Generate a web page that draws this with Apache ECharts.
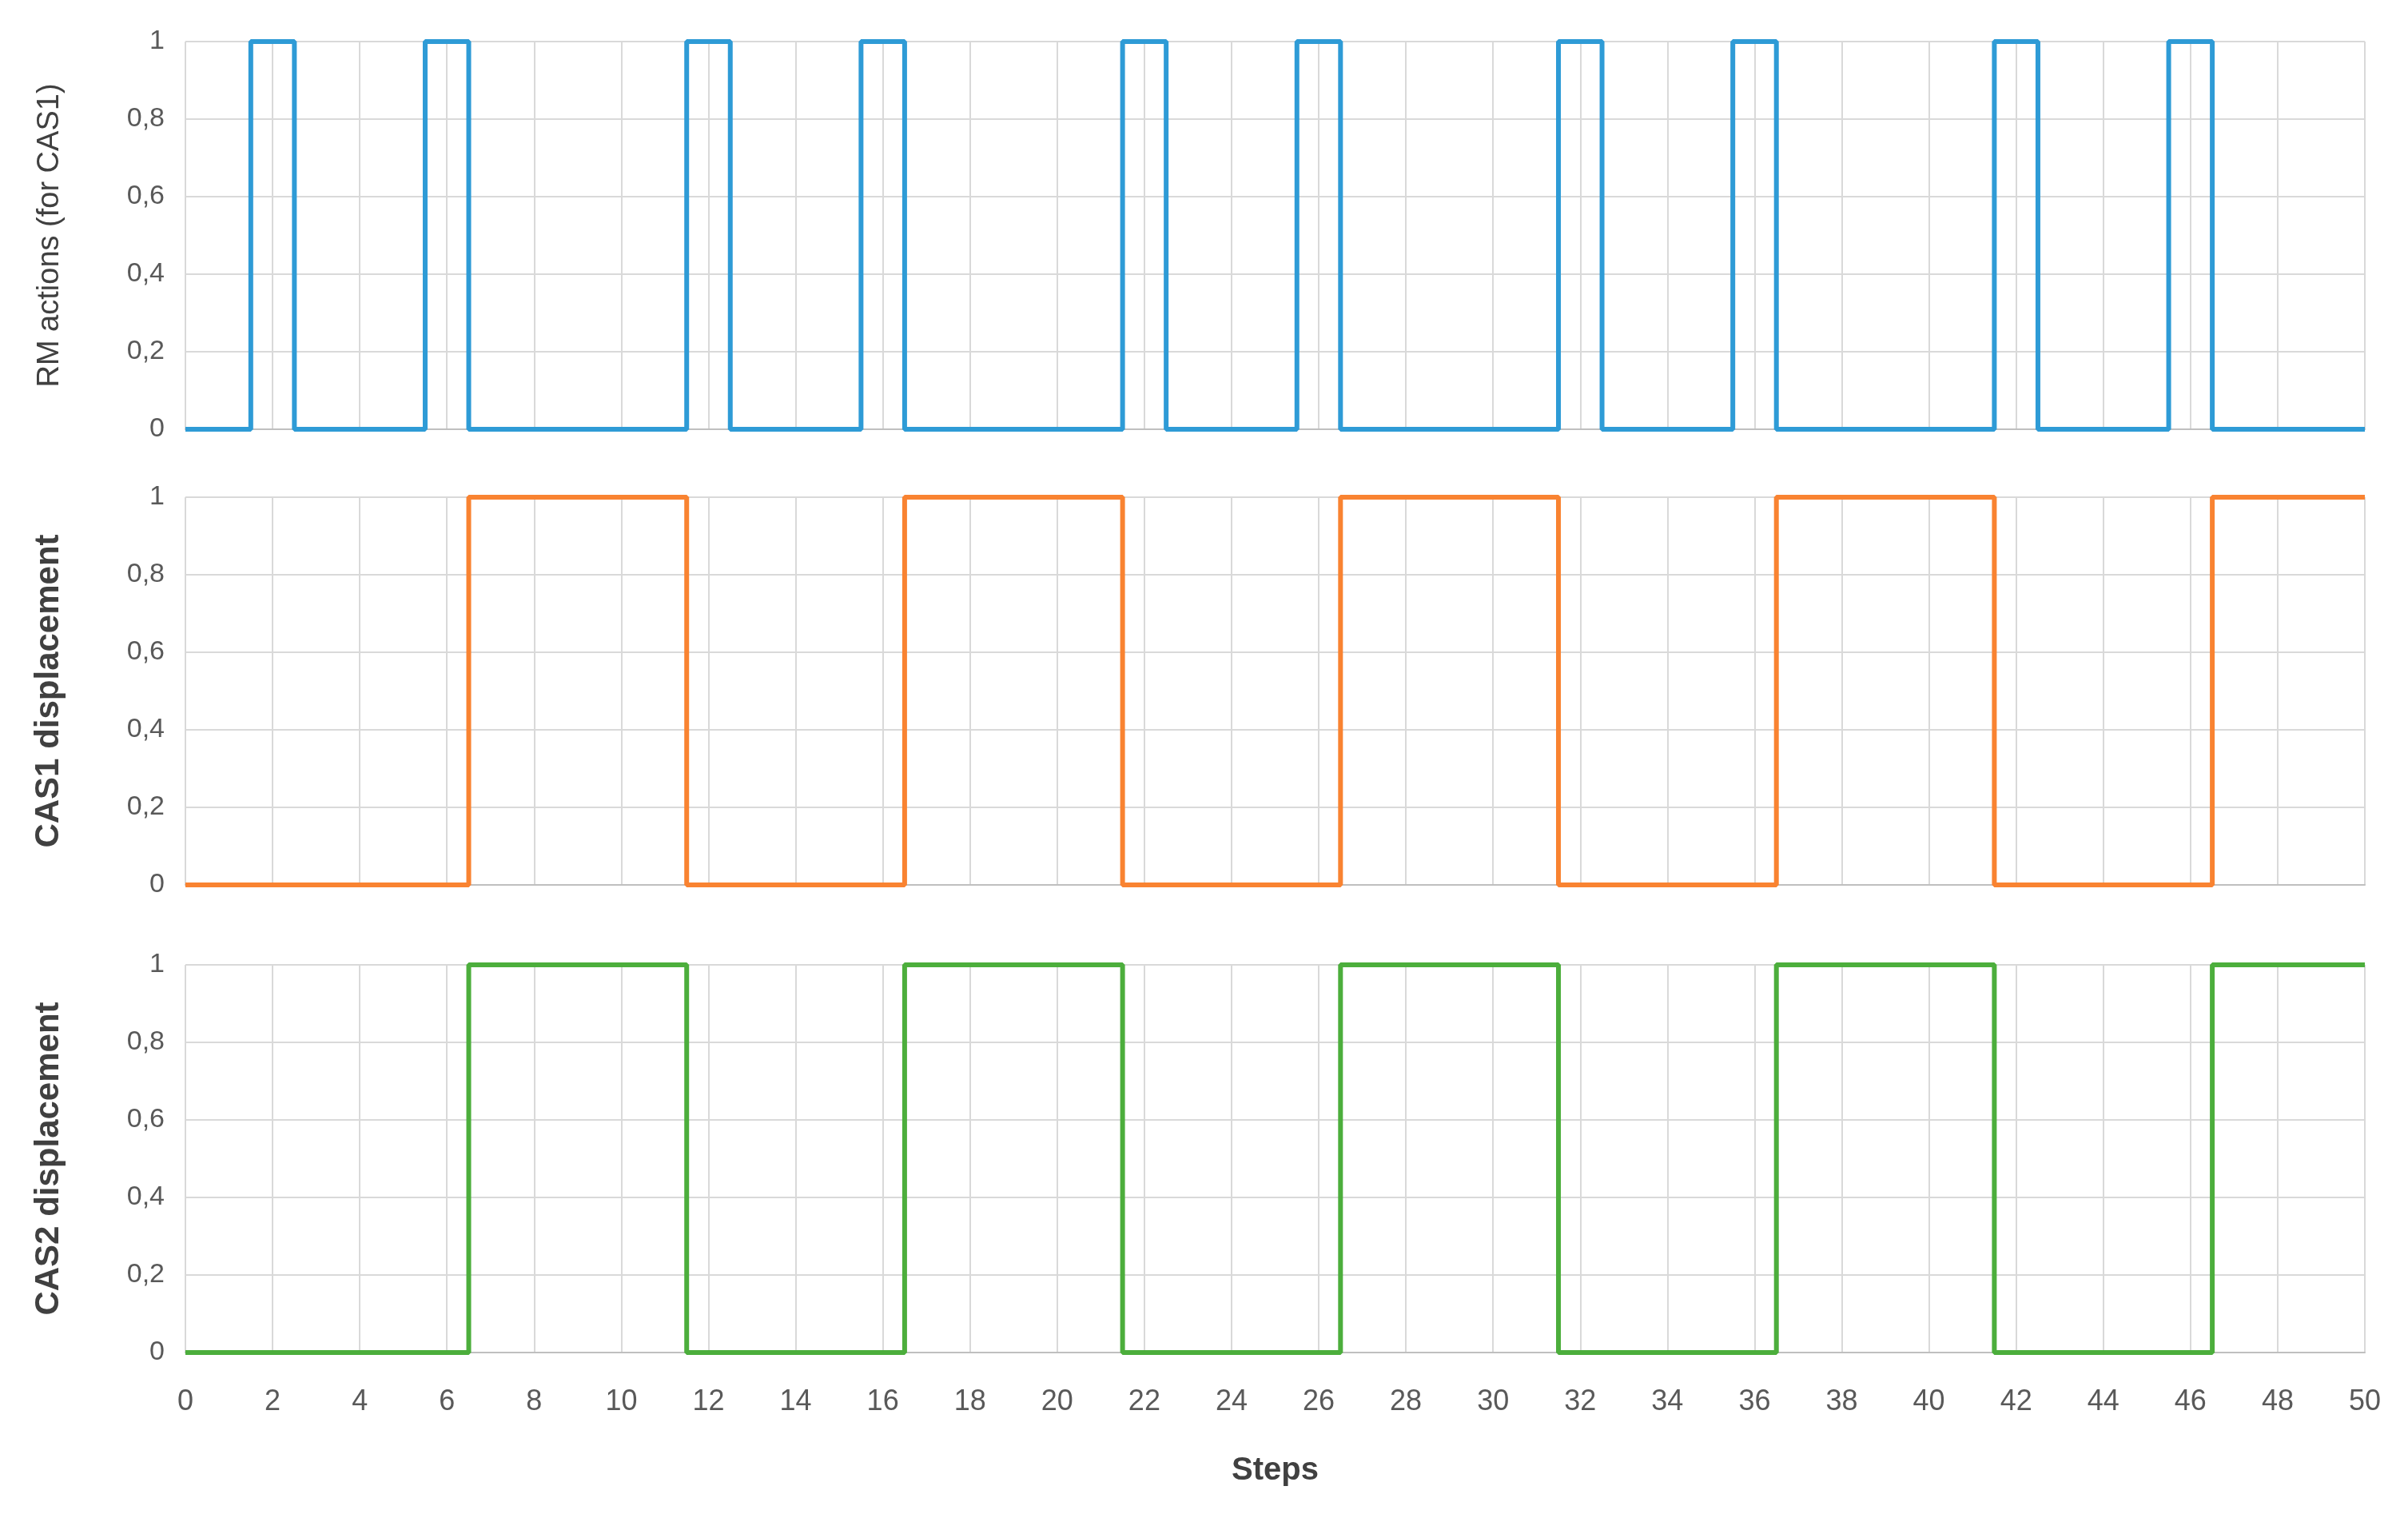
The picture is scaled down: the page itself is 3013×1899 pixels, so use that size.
<!DOCTYPE html>
<html><head><meta charset="utf-8">
<script src="https://cdn.jsdelivr.net/npm/echarts@6/dist/echarts.min.js"></script>
<style>html,body{margin:0;background:#fff}#c{width:3013px;height:1899px}</style>
</head><body><div id="c"></div>
<script>
const steps = Array.from({length:51},(_,i)=>i);
const rmActions = [0,0,1,0,0,0,1,0,0,0,0,0,1,0,0,0,1,0,0,0,0,0,1,0,0,0,1,0,0,0,0,0,1,0,0,0,1,0,0,0,0,0,1,0,0,0,1,0,0,0,0];
const cas1 = [0,0,0,0,0,0,0,1,1,1,1,1,0,0,0,0,0,1,1,1,1,1,0,0,0,0,0,1,1,1,1,1,0,0,0,0,0,1,1,1,1,1,0,0,0,0,0,1,1,1,1];
const cas2 = [0,0,0,0,0,0,0,1,1,1,1,1,0,0,0,0,0,1,1,1,1,1,0,0,0,0,0,1,1,1,1,1,0,0,0,0,0,1,1,1,1,1,0,0,0,0,0,1,1,1,1];
const names = ['RM actions (for CAS1)','CAS1 displacement','CAS2 displacement'];
const colors = ['#2E9BD6','#F98331','#4CAE3C'];
const datas = [rmActions,cas1,cas2];
const tops = [52,622,1207], h = 485;
const font = '"Liberation Sans", Arial, sans-serif';
const option = {
  animation:false,
  grid: tops.map(t=>({left:232,right:54,top:t,height:h})),
  xAxis: [0,1,2].map(i=>({type:'value',gridIndex:i,min:0,max:50,interval:2,
    axisLine:{show:true,lineStyle:{color:'#bfbfbf',width:2}},axisTick:{show:false},
    splitLine:{show:true,lineStyle:{color:'#d9d9d9',width:2}},
    axisLabel:{show:i===2,color:'#595959',fontSize:36,fontFamily:font,margin:44},
    name:i===2?'Steps':'',nameLocation:'middle',nameGap:128,
    nameTextStyle:{fontSize:40,fontWeight:'bold',color:'#404040',fontFamily:font}})),
  yAxis: [0,1,2].map(i=>({type:'value',gridIndex:i,min:0,max:1,interval:0.2,
    axisLine:{show:false},axisTick:{show:false},
    splitLine:{show:true,lineStyle:{color:'#d9d9d9',width:2}},
    axisLabel:{color:'#595959',fontSize:34,fontFamily:font,margin:26,
      formatter:v=>String(Math.round(v*10)/10).replace('.',',')},
    name:names[i],nameLocation:'middle',nameGap:150,
    nameTextStyle:{fontSize:i===0?38:42,fontWeight:i===0?'normal':'bold',color:'#404040',fontFamily:font}})),
  series: [0,1,2].map(i=>({type:'line',xAxisIndex:i,yAxisIndex:i,step:'middle',symbol:'none',
    data:steps.map((s,k)=>[s,datas[i][k]]),lineStyle:{color:colors[i],width:6}}))
};
echarts.init(document.getElementById('c')).setOption(option);
</script></body></html>
